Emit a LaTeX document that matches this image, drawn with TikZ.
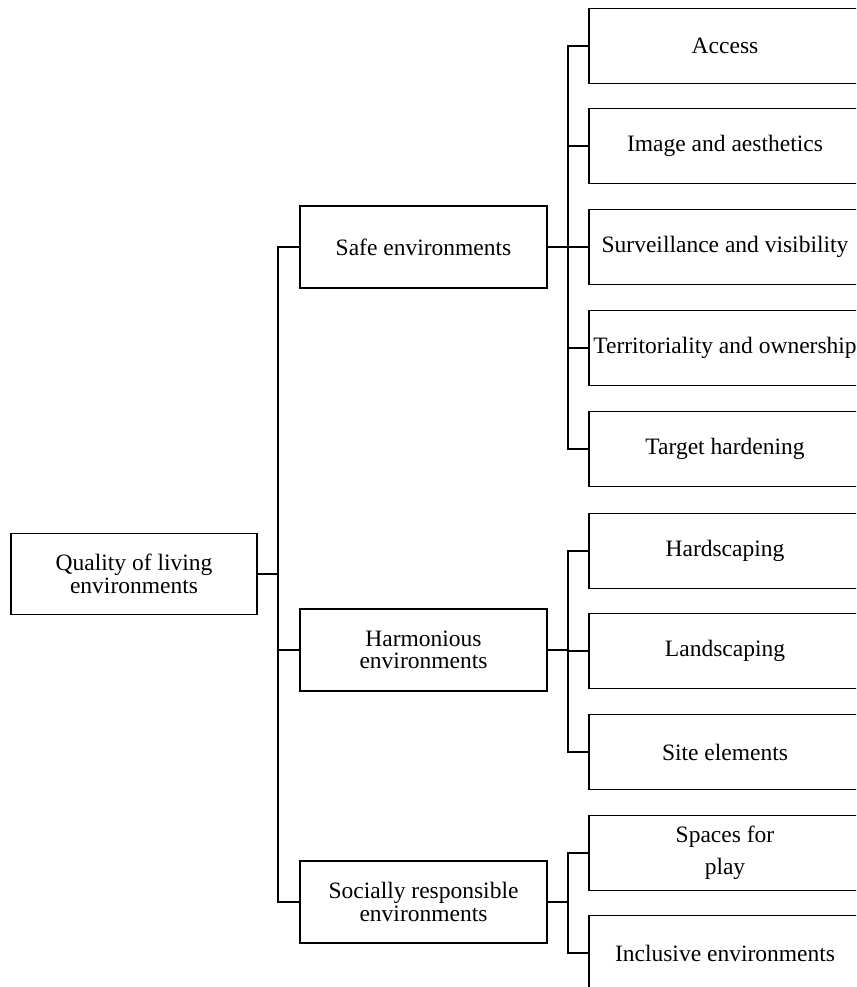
\documentclass[tikz,border=0pt]{standalone}
\usepackage{fontspec}
\setmainfont{Liberation Serif}
\begin{document}
\begin{tikzpicture}[x=1pt,y=-1pt,
  every node/.style={font=\fontsize{23.5}{22.5}\selectfont, align=center},
  rootbox/.style={draw, line width=1.2pt, rectangle, minimum width=246pt, minimum height=81pt, inner sep=0pt},
  midbox/.style={draw, line width=1.2pt, rectangle, minimum width=247pt, minimum height=82pt, inner sep=0pt},
  leafbox/.style={draw, line width=1.2pt, rectangle, minimum width=272pt, minimum height=75pt, inner sep=0pt},
  link/.style={line width=1.2pt}]
\useasboundingbox (0,0) rectangle (856,987);
\clip (0,0) rectangle (856,987);

% root
\node[rootbox] (root) at (134,574) {Quality of living\\environments};

% second level
\node[midbox] (safe) at (423.5,247) {Safe environments};
\node[midbox] (harm) at (423.5,650) {Harmonious\\environments};
\node[midbox] (soc)  at (423.5,902) {Socially responsible\\environments};

% leaves
\node[leafbox] (acc)  at (725,46)  {Access};
\node[leafbox] (img)  at (725,146) {Image and aesthetics};
\node[leafbox] (surv) at (725,247) {Surveillance and visibility};
\node[leafbox] (terr) at (725,348) {Territoriality and ownership};
\node[leafbox] (targ) at (725,449) {Target hardening};
\node[leafbox] (hard) at (725,551) {Hardscaping};
\node[leafbox] (land) at (725,651) {Landscaping};
\node[leafbox] (site) at (725,752) {Site elements};
\node[leafbox] (play) at (725,853) {Spaces for\\[9pt]play};
\node[leafbox] (incl) at (725,953) {Inclusive environments};

% trunk lines
\coordinate (t0) at (278,0);
\coordinate (t1) at (568,0);

\draw[link] (root.east) -- (root.east -| t0);
\draw[link] (safe.west) -- (safe.west -| t0) -- (soc.west -| t0) -- (soc.west);
\draw[link] (harm.west) -- (harm.west -| t0);

% safe environments branch
\draw[link] (safe.east) -- (safe.east -| t1);
\draw[link] (acc.west) -- (acc.west -| t1) -- (targ.west -| t1) -- (targ.west);
\draw[link] (img.west) -- (img.west -| t1);
\draw[link] (surv.west) -- (surv.west -| t1);
\draw[link] (terr.west) -- (terr.west -| t1);

% harmonious environments branch
\draw[link] (harm.east) -- (harm.east -| t1);
\draw[link] (hard.west) -- (hard.west -| t1) -- (site.west -| t1) -- (site.west);
\draw[link] (land.west) -- (land.west -| t1);

% socially responsible environments branch
\draw[link] (soc.east) -- (soc.east -| t1);
\draw[link] (play.west) -- (play.west -| t1) -- (incl.west -| t1) -- (incl.west);
\end{tikzpicture}
\end{document}
